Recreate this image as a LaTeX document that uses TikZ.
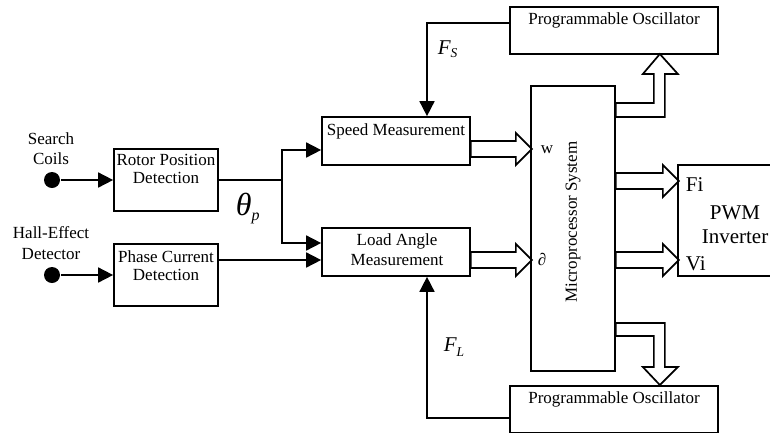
\documentclass[tikz,border=0pt]{standalone}
\usepackage{fontspec}
\setmainfont{Liberation Serif}
\usetikzlibrary{arrows.meta}

% wide outlined arrow: start point, shaft length
\newcommand{\hollowarrow}[2]{%
  \draw [hollow] (#1) ++(0,-8) -- ++(#2,0) -- ++(0,-8) -- ++(16,16) -- ++(-16,16) -- ++(0,-8) -- ++(-#2,0) -- cycle;}

\begin{document}
\begin{tikzpicture}[x=1pt, y=-1pt, line width=1.7pt,
    every node/.style={font=\fontsize{17}{19}\selectfont},
    box/.style={draw, inner sep=0pt},
    txt/.style={anchor=base, align=center, inner sep=0pt},
    big/.style={font=\fontsize{21}{24}\selectfont},
    dot/.style={circle, fill, inner sep=0pt, minimum size=16pt},
    sig/.style={-{Triangle[length=15pt, width=15pt]}},
    hollow/.style={draw, line join=miter}]
                    \useasboundingbox (0,0) rectangle (770,432);

                    \node [dot] (coils) at (52,180) {};
                    \node [dot] (hall) at (52,275) {};
                    \node [txt, font=\fontsize{17}{20}\selectfont] (coilstxt) at (51,164) {Search\\Coils};
                    \node [txt, font=\fontsize{17}{21}\selectfont] (halltxt) at (51,259) {Hall-Effect\\Detector};

                    \node [box, minimum width=104pt, minimum height=62pt] (rotor) at (166,180) {};
                    \node [txt, font=\fontsize{17}{18.5}\selectfont] (rotortxt) at (166,183.5) {Rotor Position\\Detection};
                    \node [box, minimum width=104pt, minimum height=62pt] (phase) at (166,275) {};
                    \node [txt, font=\fontsize{17}{18.5}\selectfont] (phasetxt) at (166,280.5) {Phase Current\\Detection};

                    \node [box, minimum width=148pt, minimum height=48pt] (speed) at (396,141) {};
                    \node [txt] (speedtxt) at (396,135) {Speed Measurement};
                    \node [box, minimum width=148pt, minimum height=48pt] (load) at (396,252) {};
                    \node [txt, font=\fontsize{17}{20}\selectfont] (loadtxt) at (397,265) {Load Angle\\Measurement};

                    \node [box, minimum width=208pt, minimum height=47pt] (osctop) at (614,30.5) {};
                    \node [txt] (osctoptxt) at (614,24) {Programmable Oscillator};
                    \node [box, minimum width=208pt, minimum height=47pt] (oscbot) at (614,409.5) {};
                    \node [txt] (oscbottxt) at (614,403) {Programmable Oscillator};

                    \node [box, minimum width=84pt, minimum height=285pt] (micro) at (573,228.5) {};
                    \node [rotate=90, inner sep=0pt] (microtxt) at (573,222) {Microprocessor System};
                    \node [txt] (w) at (547,153) {w};
                    \node [txt] (partial) at (542,265) {∂};

                    \node [box, minimum width=114pt, minimum height=111pt] (pwm) at (735,220.5) {};
                    \node [txt, big] (pwmtxt) at (735,243) {PWM\\Inverter};
                    \node [txt, big, anchor=base west] (fi) at (685,191) {Fi};
                    \node [txt, big, anchor=base west] (vi) at (685,270) {Vi};

                    \node [anchor=base west, inner sep=0pt] (theta) at (235,215) {\fontsize{32}{32}\selectfont\itshape θ\raisebox{-5.5pt}{\fontsize{16}{16}\selectfont p}};
                    \node [anchor=base west, inner sep=0pt] (fs) at (437,54) {\fontsize{21}{21}\selectfont\itshape F\raisebox{-3pt}{\fontsize{13.5}{13.5}\selectfont S}};
                    \node [anchor=base west, inner sep=0pt] (fl) at (443,351) {\fontsize{21}{21}\selectfont\itshape F\raisebox{-5pt}{\fontsize{13.5}{13.5}\selectfont L}};

                    \coordinate (split) at (282,180);
                    \coordinate (loadin) at ([yshift=-8pt]load.west);
                    \coordinate (fsin) at ([xshift=31pt]speed.north);
                    \coordinate (flin) at ([xshift=31pt]load.south);

                    \draw [sig] (coils) -- (rotor);
                    \draw [sig] (hall) -- (phase);
                    \draw (rotor) -- (split);
                    \draw [sig] (split) |- ([yshift=-9pt]speed.west);
                    \draw [sig] (split) |- ([yshift=9pt]load.west);
                    \draw [sig] (phase.east |- loadin) -- (loadin);
                    \draw [sig] ([yshift=7.5pt]osctop.west) -| (fsin);
                    \draw [sig] ([yshift=-8.5pt]oscbot.west) -| (flin);

                    \hollowarrow{[yshift=-8pt]speed.east}{45}
                    \hollowarrow{[yshift=-8pt]load.east}{45}
                    \hollowarrow{[yshift=47.5pt]micro.east}{47}
                    \hollowarrow{[yshift=-31.5pt]micro.east}{47}
                    \draw [hollow] ([yshift=118.5pt]micro.east) ++(0,-7) -- ++(38,0) -- ++(0,-29) -- ++(-11,0) -- ++(17,-20) -- ++(18,20) -- ++(-13,0) -- ++(0,43) -- ++(-49,0) -- cycle;
                    \draw [hollow] ([yshift=-101pt]micro.east) ++(0,-6.5) -- ++(49,0) -- ++(0,44) -- ++(13,0) -- ++(-18,18) -- ++(-17,-18) -- ++(11,0) -- ++(0,-31) -- ++(-38,0) -- cycle;
                \end{tikzpicture}
\end{document}
